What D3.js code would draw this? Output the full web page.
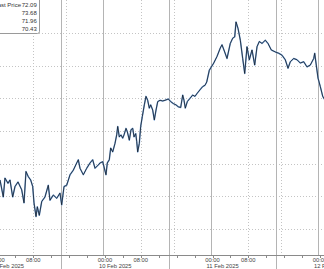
<!DOCTYPE html>
<html><head><meta charset="utf-8">
<script src="https://cdn.jsdelivr.net/npm/d3@7"></script>
<style>
body{margin:0;background:#fff;overflow:hidden}
svg{display:block}
text{font-family:"Liberation Sans",Arial,sans-serif}
</style>
</head><body>
<svg id="c" width="324" height="269"></svg>
<script>
// Hours since 00:00 of the first visible day (days are consecutive trading days)
const hours = [0.56,1.29,1.67,2.34,2.79,3.39,3.91,4.58,5.40,5.92,6.36,6.88,7.41,7.86,8.15,8.60,8.89,9.33,9.87,10.60,
11.34,11.72,12.46,13.22,13.95,14.33,14.85,15.45,16.19,16.92,17.68,18.04,18.42,19.16,19.92,20.65,21.25,21.77,22.50,
22.88,23.49,23.78,24.22,24.51,24.96,25.27,25.72,26.23,26.61,26.84,27.19,27.57,27.95,28.24,28.69,28.98,29.43,29.81,30.19,
30.48,30.86,31.08,31.30,31.66,31.97,32.33,32.78,33.15,33.53,33.89,34.20,34.65,35.01,35.39,35.77,36.28,36.88,37.40,38.13,
38.67,39.25,39.85,40.37,40.90,41.35,41.64,41.93,42.38,42.98,43.58,44.09,44.61,45.21,45.81,46.33,46.71,47.29,
48.27,49.00,49.74,50.12,50.72,51.24,51.97,52.51,52.96,53.25,53.70,54.21,54.74,55.19,55.70,56.22,56.82,57.42,57.94,58.45,
59.05,59.79,60.39,61.13,62.02,62.78,63.52,64.25,64.86,65.37,66.13,66.87,67.60,68.36,69.10,69.84,70.60,70.82,71.11,71.56,
72.07,72.61,73.12];
const prices = [71.25,70.99,71.28,71.20,71.25,70.99,71.15,71.22,71.10,70.90,71.38,71.30,71.25,71.15,70.90,70.69,70.84,70.71,70.92,70.99,
71.17,70.94,71.02,70.97,71.05,70.87,71.15,71.17,71.33,71.40,71.51,71.56,71.43,71.33,71.43,71.51,71.56,71.43,71.48,
71.51,71.53,71.45,71.33,71.51,71.56,71.74,71.68,71.81,71.94,72.07,71.91,71.94,71.89,71.94,72.04,71.99,71.86,72.02,72.04,
71.91,71.96,71.84,71.68,71.81,72.07,72.22,72.40,72.53,72.47,72.35,72.40,72.32,72.17,72.32,72.45,72.47,72.46,72.47,72.49,
72.45,72.42,72.40,72.37,72.36,72.55,72.47,72.35,72.45,72.50,72.55,72.53,72.58,72.63,72.68,72.70,72.75,72.93,
73.04,73.14,73.27,73.32,73.21,73.11,73.34,73.42,73.44,73.67,73.57,73.39,73.11,72.88,73.29,73.09,73.24,73.01,73.29,73.37,
73.34,73.39,73.34,73.24,73.21,73.19,73.16,73.09,72.96,73.06,73.11,73.09,73.04,73.06,72.98,73.01,73.11,73.19,73.04,72.81,
72.68,72.53,72.47];

const dayLabels = ["07 Feb 2025","10 Feb 2025","11 Feb 2025","12 Feb 2025"];
const timeLabelHours = [0, 8];
const timeLabels = ["00:00", "08:00"];
const minorTickHours = [0, 4, 8, 12, 16, 20];
const dottedGridHours = [8, 15.3];
const solidGridHours = [14.2, 23.6];
const priceGrid = [70.5, 71, 71.5, 72, 72.5, 73, 73.5];
const legendName = "Last Price";
const legendValues = ["72.09", "73.68", "71.96", "70.43"];

const W = 324, H = 269, axisY = 255.5;
const svg = d3.select("#c");
const x = d3.scaleLinear().domain([0, 96]).range([-2.5, 427.5]);
const y = d3.scaleLinear().domain([70.5, 73.5]).range([229, 33]);
const px = v => Math.round(v) + 0.5;

const days = d3.range(dayLabels.length);

// horizontal dotted grid
svg.append("g").selectAll("line").data(priceGrid).join("line")
  .attr("x1", 0).attr("x2", W)
  .attr("y1", d => px(y(d))).attr("y2", d => px(y(d)))
  .attr("stroke", "#c4c4c4").attr("stroke-dasharray", "1,2");

// vertical dotted grid
const dotted = days.flatMap(d => dottedGridHours.map(h => d * 24 + h));
svg.append("g").selectAll("line").data(dotted).join("line")
  .attr("x1", d => px(x(d))).attr("x2", d => px(x(d)))
  .attr("y1", 0).attr("y2", axisY)
  .attr("stroke", "#c4c4c4").attr("stroke-dasharray", "1,2");

// vertical solid grid
const solid = days.flatMap(d => solidGridHours.map((h, i) => ({t: d * 24 + h, sep: i === 0})));
svg.append("g").selectAll("line").data(solid).join("line")
  .attr("x1", d => px(x(d.t))).attr("x2", d => px(x(d.t)))
  .attr("y1", 0).attr("y2", d => d.sep ? H : axisY)
  .attr("stroke", "#b4b4b4").attr("stroke-width", 1);

// axis line
svg.append("line").attr("x1", 0).attr("x2", W).attr("y1", axisY).attr("y2", axisY)
  .attr("stroke", "#8a8a8a");

// minor ticks
const ticks = days.flatMap(d => minorTickHours.map(h => d * 24 + h));
svg.append("g").selectAll("line").data(ticks).join("line")
  .attr("x1", d => px(x(d))).attr("x2", d => px(x(d)))
  .attr("y1", axisY).attr("y2", axisY + 2.5)
  .attr("stroke", "#8a8a8a");

// time labels
const tl = days.flatMap(d => timeLabelHours.map((h, i) => ({t: d * 24 + h, s: timeLabels[i]})));
svg.append("g").selectAll("text").data(tl).join("text")
  .attr("x", d => x(d.t)).attr("y", 261.6)
  .attr("text-anchor", "middle").attr("font-size", 5.8).attr("fill", "#444")
  .text(d => d.s);

// date labels
svg.append("g").selectAll("text").data(days).join("text")
  .attr("x", d => x(d * 24) - 6).attr("y", 267.8)
  .attr("font-size", 5.8).attr("fill", "#444")
  .text(d => dayLabels[d]);

// price line
const pts = hours.map((h, i) => [h, prices[i]]);
const line = d3.line().x(d => x(d[0])).y(d => y(d[1]));
svg.append("path").attr("d", line(pts)).attr("fill", "none")
  .attr("stroke", "#7aa6da").attr("stroke-width", 1.5).attr("stroke-linejoin", "round");
svg.append("path").attr("d", line(pts)).attr("fill", "none")
  .attr("stroke", "#131c27").attr("stroke-width", 0.8).attr("stroke-linejoin", "round");

// legend
const lg = svg.append("g");
lg.append("rect").attr("x", -6).attr("y", -6).attr("width", 45.5).attr("height", 39.5)
  .attr("rx", 2).attr("fill", "#fff").attr("stroke", "#9a9a9a");
lg.append("text").attr("x", 21).attr("y", 7.3).attr("text-anchor", "end")
  .attr("font-size", 6).attr("fill", "#333").text(legendName);
lg.selectAll("text.v").data(legendValues).join("text").attr("class", "v")
  .attr("x", 36.8).attr("y", (d, i) => 7.3 + i * 8)
  .attr("text-anchor", "end").attr("font-size", 6).attr("fill", "#333")
  .text(d => d);
</script>
</body></html>
